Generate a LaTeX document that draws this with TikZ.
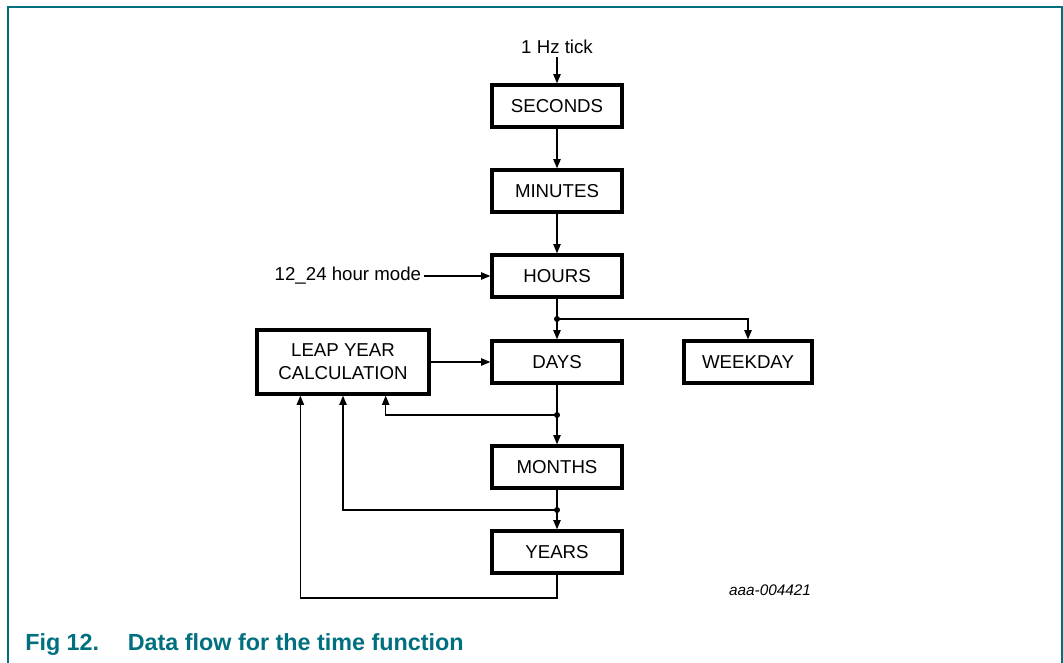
\documentclass[tikz,border=0pt]{standalone}
\usepackage{fontspec}
\setmainfont{Liberation Sans}
\usetikzlibrary{arrows.meta}
\definecolor{nxpteal}{RGB}{0,112,128}
\begin{document}
\begin{tikzpicture}[x=0.75pt,y=-0.75pt,
  blk/.style={draw,line width=2.4pt,minimum width=97.5pt,minimum height=31.5pt,inner sep=0pt,font=\fontsize{14}{17}\selectfont,align=center},
  lbl/.style={font=\fontsize{14}{17}\selectfont,inner sep=2pt},
  conn/.style={line width=1.1pt},
  arr/.style={conn,-{Triangle[length=7pt,width=5.5pt]}},
  dot/.style={circle,fill,inner sep=0pt,minimum size=4.5pt}]
\useasboundingbox (0,0) rectangle (1063,663);
\draw[nxpteal,line width=1.5pt] (8,663) -- (8,7) -- (1062,7) -- (1062,663);
\node[lbl] (tick) at (557,47) {1 Hz tick};
\node[blk] (seconds) at (557,106) {SECONDS};
\node[blk] (minutes) at (557,191) {MINUTES};
\node[blk] (hours) at (557,276) {HOURS};
\node[blk] (days) at (557,362) {DAYS};
\node[blk,minimum width=96pt] (weekday) at (748,362) {WEEKDAY};
\node[blk,minimum width=129pt,minimum height=48pt] (leap) at (343,362) {LEAP YEAR\\CALCULATION};
\node[blk] (months) at (557,467) {MONTHS};
\node[blk] (years) at (557,552) {YEARS};
\node[lbl,anchor=east] (mode) at (424,276) {12\_24 hour mode};
\node[font=\fontsize{11.5}{13}\selectfont\itshape] (ref) at (770,590) {aaa-004421};
\node[anchor=base west,inner sep=0pt,text=nxpteal,font=\fontsize{17.5}{20}\selectfont\bfseries] (cap) at (25,650) {Fig 12.\hspace{21.5pt}Data flow for the time function};
\coordinate (j1) at (557,319);
\coordinate (j2) at (557,415);
\coordinate (j3) at (557,510);
\coordinate (c4) at (557,598);
\draw[arr] (tick) -- (seconds);
\draw[arr] (seconds) -- (minutes);
\draw[arr] (minutes) -- (hours);
\draw[arr] (mode) -- (hours);
\draw[arr] (hours) -- (days);
\draw[arr] (j1) -| (weekday.north);
\draw[arr] (leap) -- (days);
\draw[arr] (days) -- (months);
\draw[arr] (j2) -| ([xshift=32pt]leap.south);
\draw[arr] (months) -- (years);
\draw[arr] (j3) -| (leap.south);
\draw[arr] (years.south) -- (c4) -| ([xshift=-32pt]leap.south);
\node[dot] at (j1) {};
\node[dot] at (j2) {};
\node[dot] at (j3) {};
\end{tikzpicture}
\end{document}
